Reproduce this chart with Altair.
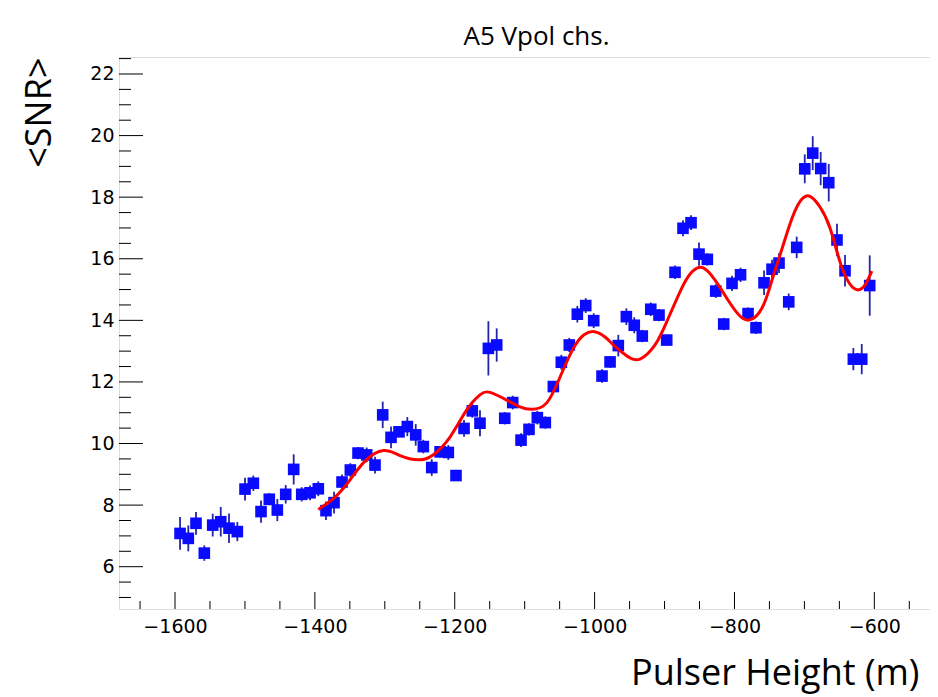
import altair as alt
import pandas as pd

# ---- data ----
heights = [-1592.8, -1581.0, -1570.0, -1558.1, -1546.1, -1534.6, -1522.8, -1510.9, -1499.9, -1488.0,
           -1477.0, -1465.2, -1453.7, -1441.7, -1430.3, -1418.8, -1406.9, -1395.1, -1384.1, -1372.6,
           -1361.2, -1349.3, -1338.3, -1325.9, -1314.0, -1303.0, -1291.1, -1279.7, -1267.8, -1255.8,
           -1244.9, -1232.9, -1221.0, -1209.2, -1198.2, -1186.7, -1174.9, -1163.9, -1151.9, -1140.0,
           -1128.5, -1117.1, -1105.2, -1093.8, -1081.9, -1070.5, -1059.0, -1047.6, -1036.2, -1024.7,
           -1012.7, -1001.3, -989.4, -977.9, -966.1, -954.6, -943.3, -931.8, -919.7, -907.9,
           -896.9, -885.0, -873.6, -862.1, -850.7, -838.8, -826.8, -815.4, -803.5, -791.3,
           -780.6, -769.2, -757.7, -746.3, -736.3, -722.4, -711.0, -699.5, -688.1, -676.7,
           -665.2, -653.4, -641.9, -630.0, -618.0, -606.6]
snr = [7.08, 6.92, 7.41, 6.44, 7.35, 7.46, 7.25, 7.14, 8.52, 8.71,
       7.79, 8.19, 7.84, 8.35, 9.16, 8.35, 8.40, 8.53, 7.82, 8.08,
       8.75, 9.14, 9.69, 9.63, 9.30, 10.93, 10.20, 10.38, 10.55, 10.28,
       9.90, 9.22, 9.73, 9.71, 8.96, 10.49, 11.06, 10.66, 13.09, 13.20,
       10.82, 11.33, 10.11, 10.46, 10.84, 10.68, 11.85, 12.64, 13.20, 14.20,
       14.48, 13.99, 12.19, 12.65, 13.18, 14.12, 13.84, 13.49, 14.36, 14.17,
       13.36, 15.56, 16.99, 17.17, 16.15, 15.98, 14.95, 13.88, 15.20, 15.48,
       14.22, 13.76, 15.22, 15.66, 15.86, 14.60, 16.37, 18.92, 19.43, 18.93,
       18.47, 16.61, 15.61, 12.74, 12.74, 15.13]
snr_err = [0.53, 0.42, 0.37, 0.25, 0.37, 0.48, 0.48, 0.31, 0.37, 0.25,
           0.36, 0.20, 0.36, 0.30, 0.49, 0.23, 0.24, 0.24, 0.30, 0.35,
           0.24, 0.22, 0.20, 0.24, 0.27, 0.43, 0.35, 0.16, 0.31, 0.35,
           0.22, 0.27, 0.19, 0.24, 0.15, 0.27, 0.22, 0.42, 0.88, 0.54,
           0.20, 0.22, 0.22, 0.20, 0.22, 0.20, 0.16, 0.24, 0.23, 0.27,
           0.24, 0.24, 0.22, 0.19, 0.35, 0.27, 0.26, 0.20, 0.22, 0.20,
           0.15, 0.22, 0.26, 0.24, 0.38, 0.20, 0.22, 0.20, 0.25, 0.23,
           0.20, 0.20, 0.40, 0.31, 0.32, 0.27, 0.35, 0.47, 0.55, 0.54,
           0.61, 0.53, 0.51, 0.36, 0.49, 0.98]

fit_x = [-1395.1, -1371.2, -1349.7, -1328.3, -1302.1, -1278.3, -1252.1, -1231.1, -1206.8, -1182.9,
         -1163.9, -1149.6, -1125.7, -1106.7, -1089.9, -1068.5, -1049.4, -1030.4, -1015.1, -1000.4,
         -985.1, -973.2, -953.7, -935.0, -913.6, -896.9, -873.1, -859.3, -845.4, -827.8,
         -812.1, -795.0, -779.2, -760.6, -746.3, -734.9, -720.6, -707.7, -693.4, -677.7,
         -663.4, -649.1, -636.2, -624.3, -613.3, -603.7]
fit_y = [7.86, 8.26, 8.82, 9.43, 9.77, 9.61, 9.47, 9.63, 10.21, 11.09,
         11.58, 11.66, 11.41, 11.19, 11.11, 11.32, 12.16, 13.09, 13.53, 13.63,
         13.46, 13.20, 12.84, 12.74, 13.20, 13.95, 15.15, 15.61, 15.71, 15.31,
         14.76, 14.21, 14.01, 14.40, 15.31, 16.12, 17.13, 17.81, 18.04, 17.68,
         17.00, 15.90, 15.22, 14.99, 15.15, 15.60]

x_major = [-1600, -1400, -1200, -1000, -800, -600]
x_minor = [-1650, -1550, -1500, -1450, -1350, -1300, -1250, -1150, -1100, -1050,
           -950, -900, -850, -750, -700, -650, -550]
y_major = [6, 8, 10, 12, 14, 16, 18, 20, 22]
y_minor = [5, 5.5, 6.5, 7, 7.5, 8.5, 9, 9.5, 10.5, 11, 11.5, 12.5, 13, 13.5,
           14.5, 15, 15.5, 16.5, 17, 17.5, 18.5, 19, 19.5, 20.5, 21, 21.5, 22.5]

X_DOMAIN = [-1680.1, -520.4]
Y_DOMAIN = [4.626, 22.552]
W, H = 811, 552

pts = pd.DataFrame({"h": heights, "snr": snr, "err": snr_err})
pts["lo"] = pts["snr"] - pts["err"]
pts["hi"] = pts["snr"] + pts["err"]
fit = pd.DataFrame({"h": fit_x, "snr": fit_y})

xs = alt.Scale(domain=X_DOMAIN, nice=False, zero=False)
ys = alt.Scale(domain=Y_DOMAIN, nice=False, zero=False)

xaxis = alt.Axis(values=x_major, format="d", ticks=False, domain=False, grid=False,
                 labelFont="DejaVu Sans", labelFontSize=19, labelColor="black",
                 labelPadding=8, labelFlush=False,
                 title="Pulser Height (m)", titleFont="Open Sans", titleFontSize=36,
                 titleFontWeight="normal", titleColor="black",
                 titleAlign="right", titleBaseline="alphabetic", titleAnchor="end",
                 titleX=W - 11, titleY=75)
yaxis = alt.Axis(values=y_major, format="d", ticks=False, domain=False, grid=False,
                 labelFont="DejaVu Sans", labelFontSize=19, labelColor="black",
                 labelPadding=5, labelFlush=False,
                 title="<SNR>", titleFont="Open Sans", titleFontSize=36,
                 titleFontWeight="normal", titleColor="black", titleAngle=270,
                 titleAlign="right", titleBaseline="alphabetic", titleAnchor="end",
                 titleX=-69, titleY=0)

errbars = alt.Chart(pts).mark_rule(color="#2424a8", strokeWidth=1.8).encode(
    x=alt.X("h:Q", scale=xs, axis=xaxis),
    y=alt.Y("lo:Q", scale=ys, axis=yaxis),
    y2="hi:Q",
)
squares = alt.Chart(pts).mark_square(size=135, color="#0a0aff", opacity=1).encode(
    x=alt.X("h:Q", scale=xs),
    y=alt.Y("snr:Q", scale=ys),
)
fitline = alt.Chart(fit).mark_line(color="#ff0000", strokeWidth=3, interpolate="natural").encode(
    x=alt.X("h:Q", scale=xs),
    y=alt.Y("snr:Q", scale=ys),
)

xmaj = alt.Chart(pd.DataFrame({"v": x_major})).mark_rule(color="black", strokeWidth=1).encode(
    x=alt.X("v:Q", scale=xs), y=alt.value(H), y2=alt.value(H - 17))
xmin = alt.Chart(pd.DataFrame({"v": x_minor})).mark_rule(color="black", strokeWidth=1).encode(
    x=alt.X("v:Q", scale=xs), y=alt.value(H), y2=alt.value(H - 8))
ymaj = alt.Chart(pd.DataFrame({"v": y_major})).mark_rule(color="black", strokeWidth=1).encode(
    y=alt.Y("v:Q", scale=ys), x=alt.value(0), x2=alt.value(24))
ymin = alt.Chart(pd.DataFrame({"v": y_minor})).mark_rule(color="black", strokeWidth=1).encode(
    y=alt.Y("v:Q", scale=ys), x=alt.value(0), x2=alt.value(12))

chart = alt.layer(errbars, squares, fitline, xmaj, xmin, ymaj, ymin).properties(
    width=W, height=H,
    title=alt.TitleParams("A5 Vpol chs.", font="Open Sans", fontSize=26, fontWeight="normal",
                          color="black", anchor="middle", baseline="alphabetic", offset=14,
                          dx=12, dy=28),
    autosize=alt.AutoSizeParams(type="none"),
    padding={"left": 111, "top": 49, "right": 0, "bottom": 88},
).configure_view(stroke="black", strokeWidth=1.2).configure(background="white")

chart.save("out.html", embed_options={"renderer": "svg", "actions": False})
